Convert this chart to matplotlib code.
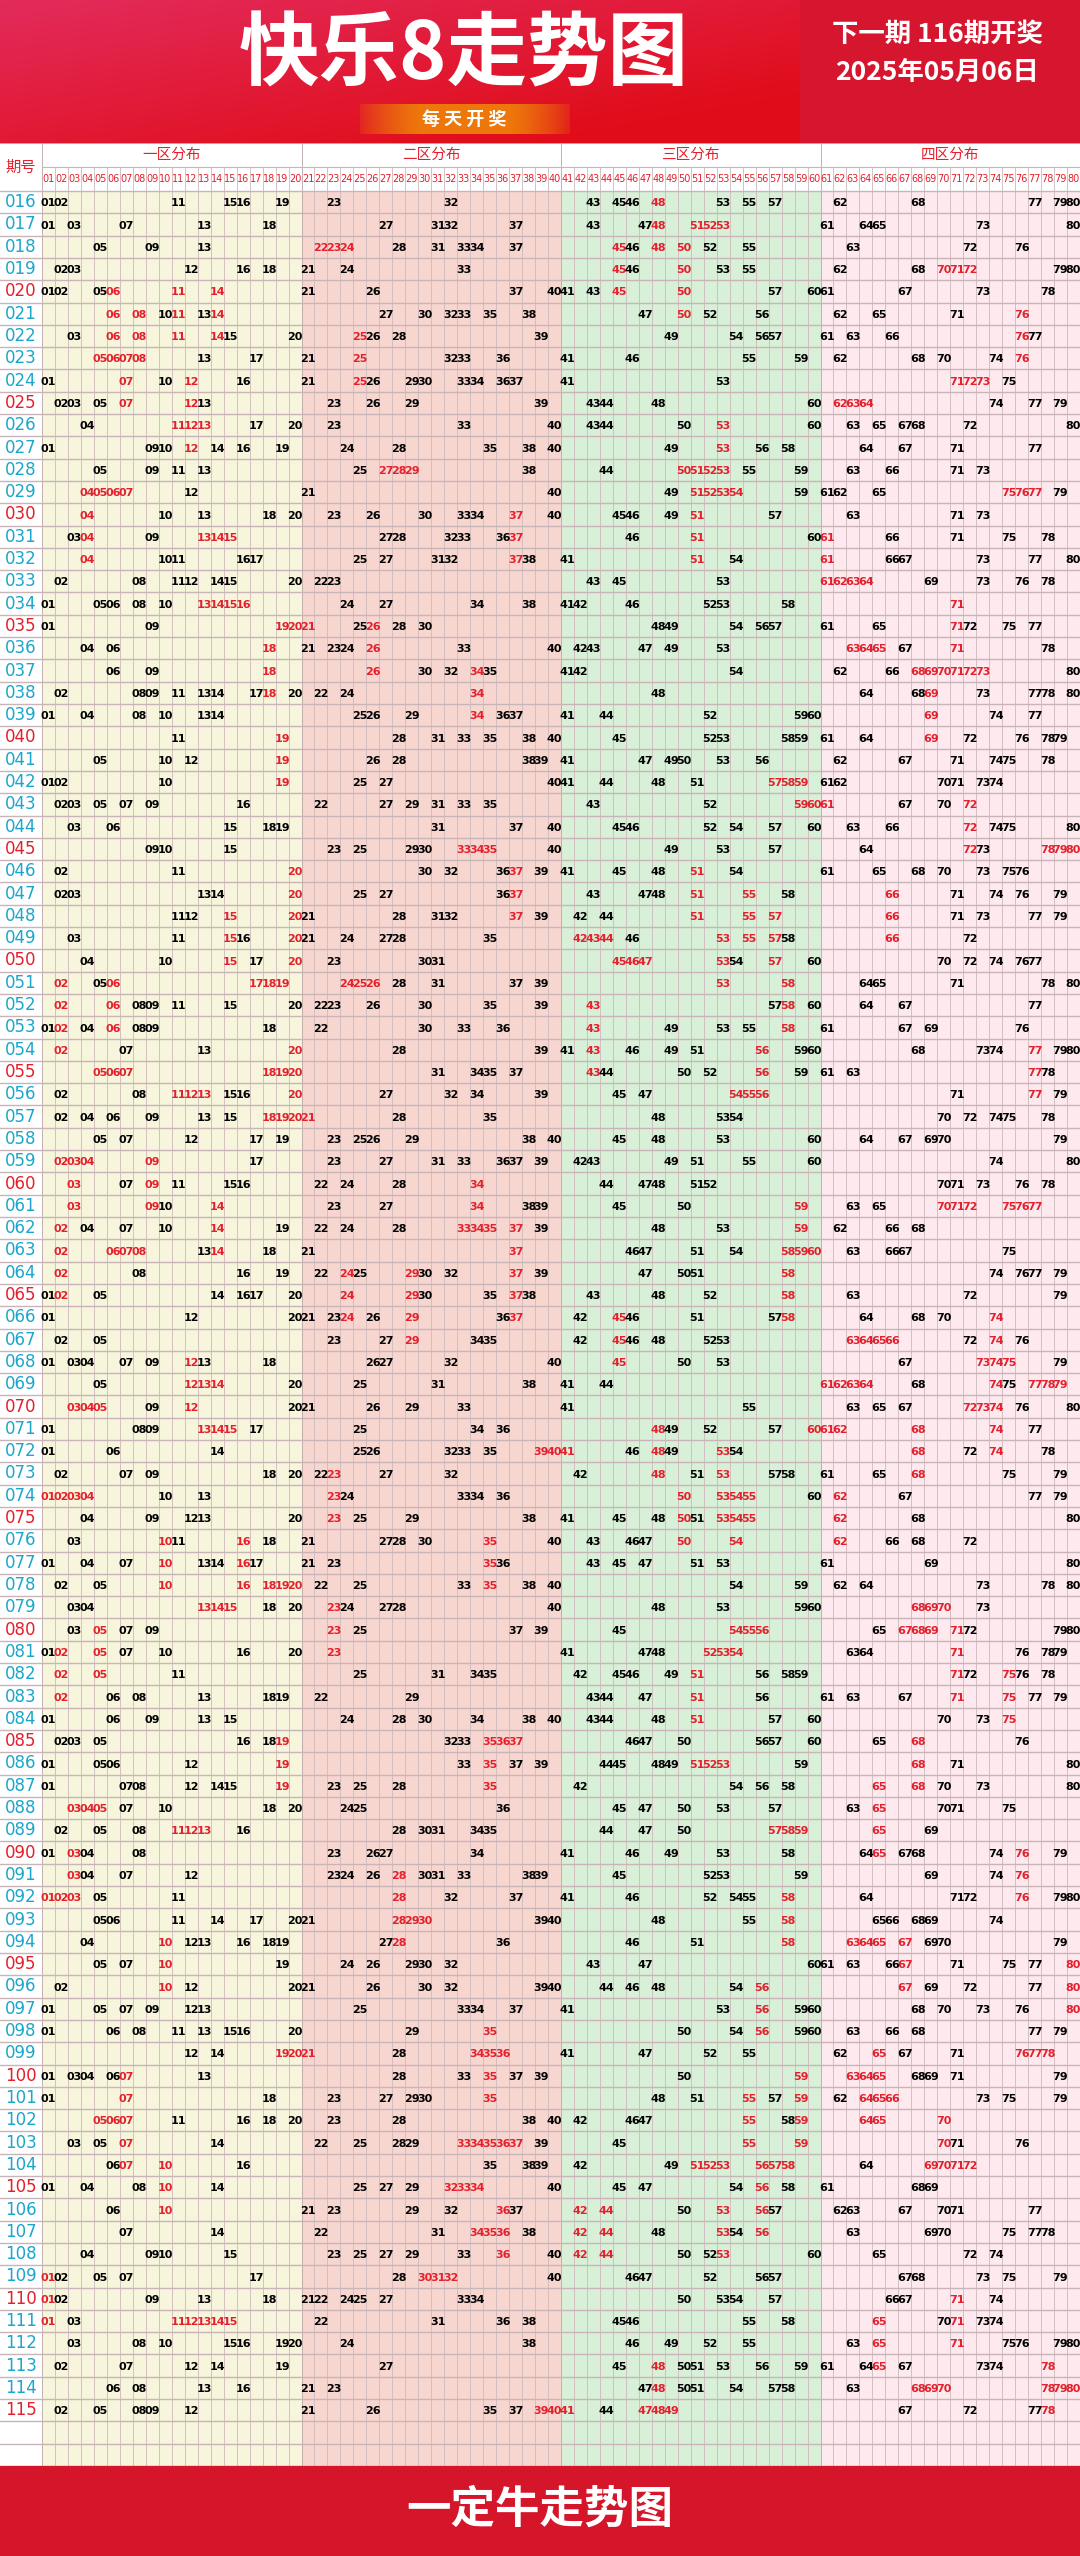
import numpy as np
import matplotlib
matplotlib.use('Agg')
import matplotlib.pyplot as plt
from matplotlib.patches import Rectangle

plt.rcParams['font.family'] = ['Noto Sans CJK SC', 'DejaVu Sans']

# draw results, '*' marks numbers shown in red
first_period = 16
draws = [
    "01 02 11 15 16 19 23 32 43 45 46 48* 53 55 57 62 68 77 79 80",
    "01 03 07 13 18 27 31 32 37 43 47 48* 51* 52* 53* 61 64 65 73 80",
    "05 09 13 22* 23* 24* 28 31 33 34 37 45* 46 48* 50* 52 55 63 72 76",
    "02 03 12 16 18 21 24 33 45* 46 50* 53 55 62 68 70* 71* 72* 79 80",
    "01 02 05 06* 11* 14* 21 26 37 40 41 43 45* 50* 57 60 61 67 73 78",
    "06* 08* 10 11* 13 14* 27 30 32 33 35 38 47 50* 52 56 62 65 71 76*",
    "03 06* 08* 11* 14* 15 20 25* 26 28 39 49 54 56 57 61 63 66 76* 77",
    "05* 06* 07* 08* 13 17 21 25* 32 33 36 41 46 55 59 62 68 70 74 76*",
    "01 07* 10 12* 16 21 25* 26 29 30 33 34 36 37 41 53 71* 72* 73* 75",
    "02 03 05 07* 12* 13 23 26 29 39 43 44 48 60 62* 63* 64* 74 77 79",
    "04 11* 12* 13* 17 20 23 33 40 43 44 50 53* 60 63 65 67 68 72 80",
    "01 09 10 12* 14 16 19 24 28 35 38 40 49 53* 56 58 64 67 71 77",
    "05 09 11 13 25 27* 28* 29* 38 44 50* 51* 52* 53* 55 59 63 66 71 73",
    "04* 05* 06* 07* 12 21 40 49 51* 52* 53* 54* 59 61 62 65 75* 76* 77* 79",
    "04* 10 13 18 20 23 26 30 33 34 37* 40 45 46 49 51* 57 63 71 73",
    "03 04* 09 13* 14* 15* 27 28 32 33 36 37* 46 51* 60 61* 66 71 75 78",
    "04* 10 11 16 17 25 27 31 32 37* 38 41 51* 54 61* 66 67 73 77 80",
    "02 08 11 12 14 15 20 22 23 43 45 53 61* 62* 63* 64* 69 73 76 78",
    "01 05 06 08 10 13* 14* 15* 16* 24 27 34 38 41 42 46 52 53 58 71*",
    "01 09 19* 20* 21* 25 26* 28 30 48 49 54 56 57 61 65 71* 72 75 77",
    "04 06 18* 21 23 24 26* 33 40 42 43 47 49 53 63* 64* 65* 67 71* 78",
    "06 09 18* 26* 30 32 34* 35 41 42 54 62 66 68* 69* 70* 71* 72* 73* 80",
    "02 08 09 11 13 14 17 18* 20 22 24 34* 48 64 68 69* 73 77 78 80",
    "01 04 08 10 13 14 25 26 29 34* 36 37 41 44 52 59 60 69* 74 77",
    "11 19* 28 31 33 35 38 40 45 52 53 58 59 61 64 69* 72 76 78 79",
    "05 10 12 19* 26 28 38 39 41 47 49 50 53 56 62 67 71 74 75 78",
    "01 02 10 19* 25 27 40 41 44 48 51 57* 58* 59* 61 62 70 71 73 74",
    "02 03 05 07 09 16 22 27 29 31 33 35 43 52 59* 60* 61* 67 70 72*",
    "03 06 15 18 19 31 37 40 45 46 52 54 57 60 63 66 72* 74 75 80",
    "09 10 15 23 25 29 30 33* 34* 35* 40 49 53 57 64 72* 73 78* 79* 80*",
    "02 11 20* 30 32 36 37* 39 41 45 48 51* 54 61 65 68 70 73 75 76",
    "02 03 13 14 20* 25 27 36 37* 43 47 48 51* 55* 58 66* 71 74 76 79",
    "11 12 15* 20* 21 28 31 32 37* 39 42 44 51* 55* 57* 66* 71 73 77 79",
    "03 11 15* 16 20* 21 24 27 28 35 42* 43* 44* 46 53* 55* 57* 58 66* 72",
    "04 10 15* 17 20* 23 30 31 45* 46* 47* 53* 54 57* 60 70 72 74 76 77",
    "02* 05 06* 17* 18* 19* 24* 25* 26* 28 31 37 39 53* 58* 64 65 71 78 80",
    "02* 06* 08 09 11 15 20 22 23 26 30 35 39 43* 57 58* 60 64 67 77",
    "01 02* 04 06* 08 09 18 22 30 33 36 43* 49 53 55 58* 61 67 69 76",
    "02* 07 13 20* 28 39 41 43* 46 49 51 56* 59 60 68 73 74 77* 79 80",
    "05* 06* 07* 18* 19* 20* 31 34 35 37 43* 44 50 52 56* 59 61 63 77* 78",
    "02 08 11* 12* 13* 15 16 20* 27 32 34 39 45 47 54* 55* 56* 71 77* 79",
    "02 04 06 09 13 15 18* 19* 20* 21* 28 35 48 53 54 70 72 74 75 78",
    "05 07 12 17 19 23 25 26 29 38 40 45 48 53 60 64 67 69 70 79",
    "02* 03* 04* 09* 17 23 27 31 33 36 37 39 42 43 49 51 55 60 74 80",
    "03* 07 09* 11 15 16 22 24 28 34* 44 47 48 51 52 70 71 73 76 78",
    "03* 09* 10 14* 23 27 34* 38 39 45 50 59* 63 65 70* 71* 72* 75* 76* 77*",
    "02* 04 07 10 14* 19 22 24 28 33* 34* 35* 37* 39 48 53 59* 62 66 68",
    "02* 06* 07* 08* 13 14* 18 21 37* 46 47 51 54 58* 59* 60* 63 66 67 75",
    "02* 08 16 19 22 24* 25 29* 30 32 37* 39 47 50 51 58* 74 76 77 79",
    "01 02* 05 14 16 17 20 24* 29* 30 35 37* 38 43 48 52 58* 63 72 79",
    "01 12 20 21 23 24* 26 29* 36 37* 42 45* 46 51 57 58* 64 68 70 74*",
    "02 05 23 27 29* 34 35 42 45* 46 48 52 53 63* 64* 65* 66* 72 74* 76",
    "01 03 04 07 09 12* 13 18 26 27 32 40 45* 50 53 67 73* 74* 75* 79",
    "05 12* 13* 14* 20 25 31 38 41 44 61* 62* 63* 64* 68 74* 75 77* 78* 79*",
    "03* 04* 05* 09 12* 20 21 26 29 33 41 55 63 65 67 72* 73* 74* 76 80",
    "01 08 09 13* 14* 15* 17 25 34 36 48* 49 52 57 60* 61* 62* 68* 74* 77",
    "01 06 14 25 26 32 33 35 39* 40* 41* 46 48* 49 53* 54 68* 72 74* 78",
    "02 07 09 18 20 22 23* 27 32 42 48* 51 53* 57 58 61 65 68* 75 79",
    "01* 02* 03* 04* 10 13 23* 24 33 34 36 50* 53* 54* 55* 60 62* 67 77 79",
    "04 09 12 13 20 23* 25 29 38 41 45 48 50* 51 53* 54* 55* 62* 68 80",
    "03 10* 11 16* 18 21 27 28 30 35* 40 43 46 47 50* 54* 62* 66 68 72",
    "01 04 07 10* 13 14 16* 17 21 23 35* 36 43 45 47 51 53 61 69 80",
    "02 05 10* 16* 18* 19* 20* 22 25 33 35* 38 40 54 59 62 64 73 78 80",
    "03 04 13* 14* 15* 18 20 23* 24 27 28 40 48 53 59 60 68* 69* 70* 73",
    "03 05* 07 09 23* 25 37 39 45 54* 55* 56* 65 67* 68* 69* 71* 72 79 80",
    "01 02* 05* 07 10 16 20 23* 41 47 48 52* 53* 54* 63 64 71* 76 78 79",
    "02* 05* 11 25 31 34 35 42 45 46 49 51* 56 58 59 71* 72 75* 76 78",
    "02* 06 08 13 18 19 22 29 43 44 47 51* 56 61 63 67 71* 75* 77 79",
    "01 06 09 13 15 24 28 30 34 38 40 43 44 48 51* 57 60 70 73 75*",
    "02 03 05 16 18 19* 32 33 35* 36* 37* 46 47 50 56 57 60 65 68* 76",
    "01 05 06 12 19* 33 35* 37 39 44 45 48 49 51* 52* 53* 59 68* 71 80",
    "01 07 08 12 14 15 19* 23 25 28 35* 42 54 56 58 65* 68* 70 73 80",
    "03* 04* 05* 07 10 18 20 24 25 36 45 47 50 53 57 63 65* 70 71 75",
    "02 05 08 11* 12* 13* 16 28 30 31 34 35 44 47 50 57* 58* 59* 65* 69",
    "01 03* 04 08 23 26 27 34 41 46 49 53 58 64 65* 67 68 74 76* 79",
    "03* 04 07 12 23 24 26 28* 30 31 33 38 39 45 52 53 59 69 74 76*",
    "01* 02* 03* 05 11 28* 32 37 41 46 52 54 55 58* 64 71 72 76* 79 80",
    "05 06 11 14 17 20 21 28* 29* 30* 39 40 48 55 58* 65 66 68 69 74",
    "04 10* 12 13 16 18 19 27 28* 36 46 51 58* 63* 64* 65* 67* 69 70 79",
    "05 07 10* 19 24 26 29 30 32 43 47 60 61 63 66 67* 71 75 77 80*",
    "02 10* 12 20 21 26 30 32 39 40 44 46 48 54 56* 67* 69 72 77 80*",
    "01 05 07 09 12 13 25 33 34 37 41 53 56* 59 60 68 70 73 76 80*",
    "01 06 08 11 13 15 16 20 29 35* 50 54 56* 59 60 63 66 68 77 79",
    "12 14 19* 20* 21* 28 34* 35* 36* 41 47 52 55 62 65* 67 71 76* 77* 78*",
    "01 03 04 06 07* 13 28 33 35* 37 39 50 59* 63* 64* 65* 68 69 71 79",
    "01 07* 18 23 27 29 30 35* 48 51 55* 57 59* 62 64* 65* 66* 73 75 79",
    "05* 06* 07* 11 16 18 20 23 28 38 40 42 46 47 55* 58 59* 64* 65* 70*",
    "03 05 07* 14 22 25 28 29 33* 34* 35* 36* 37* 39 45 55* 59* 70* 71 76",
    "06 07* 10* 16 35 38 39 42 49 51* 52* 53* 56* 57* 58* 64 69* 70* 71* 72*",
    "01 04 08 10* 14 25 27 29 32* 33* 34* 40 45 47 54 56* 58 61 68 69",
    "06 10* 21 23 29 32 36* 37 42* 44* 50 53* 56* 57 62 63 67 70 71 77",
    "07 14 22 31 34* 35* 36* 38 42* 44* 48 53* 54 56* 63 69 70 75 77 78",
    "04 09 10 15 23 25 27 29 33 36* 40 42* 44* 50 52 53* 60 65 72 74",
    "01* 02 05 07 17 28 30* 31* 32* 40 46 47 52 56 57 67 68 73 75 79",
    "01* 02 09 13 18 21 22 24 25 27 33 34 50 53 54 57 66 67 71* 74",
    "01* 03 11* 12* 13* 14* 15* 22 31 36 38 45 46 55 58 65* 70 71* 73 74",
    "03 08 10 15 16 19 20 24 38 46 49 52 55 63 65* 71* 75 76 79 80",
    "02 07 12 14 19 27 45 48* 50 51 53 56 59 61 64 65* 67 73 74 78*",
    "06 08 13 16 21 23 47 48* 50 51 54 57 58 63 68* 69* 70* 78* 79* 80*",
    "02 05 08 09 12 21 26 35 37 39* 40* 41* 44 47* 48* 49* 67 72 77 78*",
]
zone_names = ['一区分布', '二区分布', '三区分布', '四区分布']
zone_colors = ['#f7f5dc', '#f8d6d0', '#d8efd8', '#fde9ee']
title = '快乐8走势图'
next_issue = '下一期 116期开奖'
issue_date = '2025年05月06日'
slogan = '每 天 开 奖'
footer = '一定牛走势图'

RED = '#e4202c'
BLUE = '#1ba6cc'
NARROW = ['Liberation Sans Narrow', 'DejaVu Sans']
W, H = 1080, 2556
fig = plt.figure(figsize=(W / 100, H / 100), dpi=100)
fig.patch.set_facecolor('white')

# ---- header banner ----
hdr = fig.add_axes([0, 1 - 143 / H, 1, 143 / H])
hdr.set_xlim(0, W); hdr.set_ylim(143, 0); hdr.axis('off')
gx, gy = np.meshgrid(np.linspace(0, 1, 200), np.linspace(0, 1, 60))
g = np.clip(gx * 0.6 + gy * 0.6, 0, 1)
c1 = np.array([0.89, 0.17, 0.36]); c2 = np.array([0.88, 0.05, 0.10])
img = c1[None, None, :] * (1 - g[..., None]) + c2[None, None, :] * g[..., None]
hdr.imshow(img, extent=[0, 800, 143, 0], aspect='auto')
hdr.add_patch(Rectangle((800, 0), 280, 143, color='#d5162e'))
px = np.linspace(-1, 1, 200)
pill = np.zeros((1, 200, 4))
pill[0, :, :3] = [0.93, 0.47, 0.04]
pill[0, :, 3] = np.clip(1.2 - np.abs(px) ** 2, 0, 1)
hdr.imshow(pill, extent=[360, 570, 134, 104], aspect='auto')
hdr.text(464, 56, title, color='white', fontsize=58, fontweight='heavy', ha='center', va='center')
hdr.text(464, 119, slogan, color='white', fontsize=13, fontweight='bold', ha='center', va='center')
hdr.text(937, 34, next_issue, color='white', fontsize=19, fontweight='bold', ha='center', va='center')
hdr.text(937, 72, issue_date, color='white', fontsize=19, fontweight='bold', ha='center', va='center')

# ---- table ----
n_rows = len(draws)
ax = fig.add_axes([0, 1 - 2466 / H, 1, (2466 - 143) / H])
pcol = 42 / ((W - 42) / 80)
x0 = 0.5 - pcol
top = -0.5 - 48 / 22.3
bottom = n_rows + 1.5
ax.set_xlim(x0, 80.5); ax.set_ylim(bottom, top); ax.axis('off')

for z in range(4):
    ax.add_patch(Rectangle((z * 20 + 0.5, -0.5), 20, bottom + 0.5, color=zone_colors[z], lw=0))
mid = -0.5 - 24 / 22.3
for k in range(81):
    ytop = top if k % 20 == 0 else mid
    ax.plot([k + 0.5, k + 0.5], [ytop, bottom], color='#cdb9bb' if k % 20 else '#b9a5a7', lw=0.6)
for i in range(n_rows + 3):
    ax.plot([x0, 80.5], [i - 0.5, i - 0.5], color='#c9b5b8', lw=1.0)
ax.plot([0.5, 80.5], [mid, mid], color='#c9b5b8', lw=0.8)
ax.plot([x0, 80.5], [top, top], color='#a89a9c', lw=1.2)
ax.plot([x0, 80.5], [bottom, bottom], color='#a89a9c', lw=1.0)

ax.text(x0 + pcol / 2, (top - 0.5) / 2, '期号', color=RED, fontsize=11, ha='center', va='center')
for z in range(4):
    ax.text(z * 20 + 10.5, (top + mid) / 2, zone_names[z], color=RED, fontsize=10.5, ha='center', va='center')
for n in range(1, 81):
    ax.text(n, (mid - 0.5) / 2, f'{n:02d}', color=RED, fontsize=7, ha='center', va='center',
            family=NARROW)

for i, row in enumerate(draws):
    period = first_period + i
    ax.text(x0 + pcol / 2, i, f'{period:03d}', color=RED if period % 5 == 0 else BLUE,
            fontsize=12, ha='center', va='center', family=NARROW)
    for tok in row.split():
        red = tok.endswith('*')
        num = int(tok.rstrip('*'))
        ax.text(num, i + 0.05, f'{num:02d}', color=RED if red else 'black', fontsize=8,
                fontweight='bold', ha='center', va='center', family=NARROW)

# ---- footer ----
ft = fig.add_axes([0, 0, 1, 90 / H])
ft.set_xlim(0, W); ft.set_ylim(90, 0); ft.axis('off')
ft.add_patch(Rectangle((0, 0), W, 90, color='#d4152a'))
ft.text(540, 44, footer, color='white', fontsize=32, fontweight='heavy', ha='center', va='center')

fig.savefig('out.png', dpi=100)
